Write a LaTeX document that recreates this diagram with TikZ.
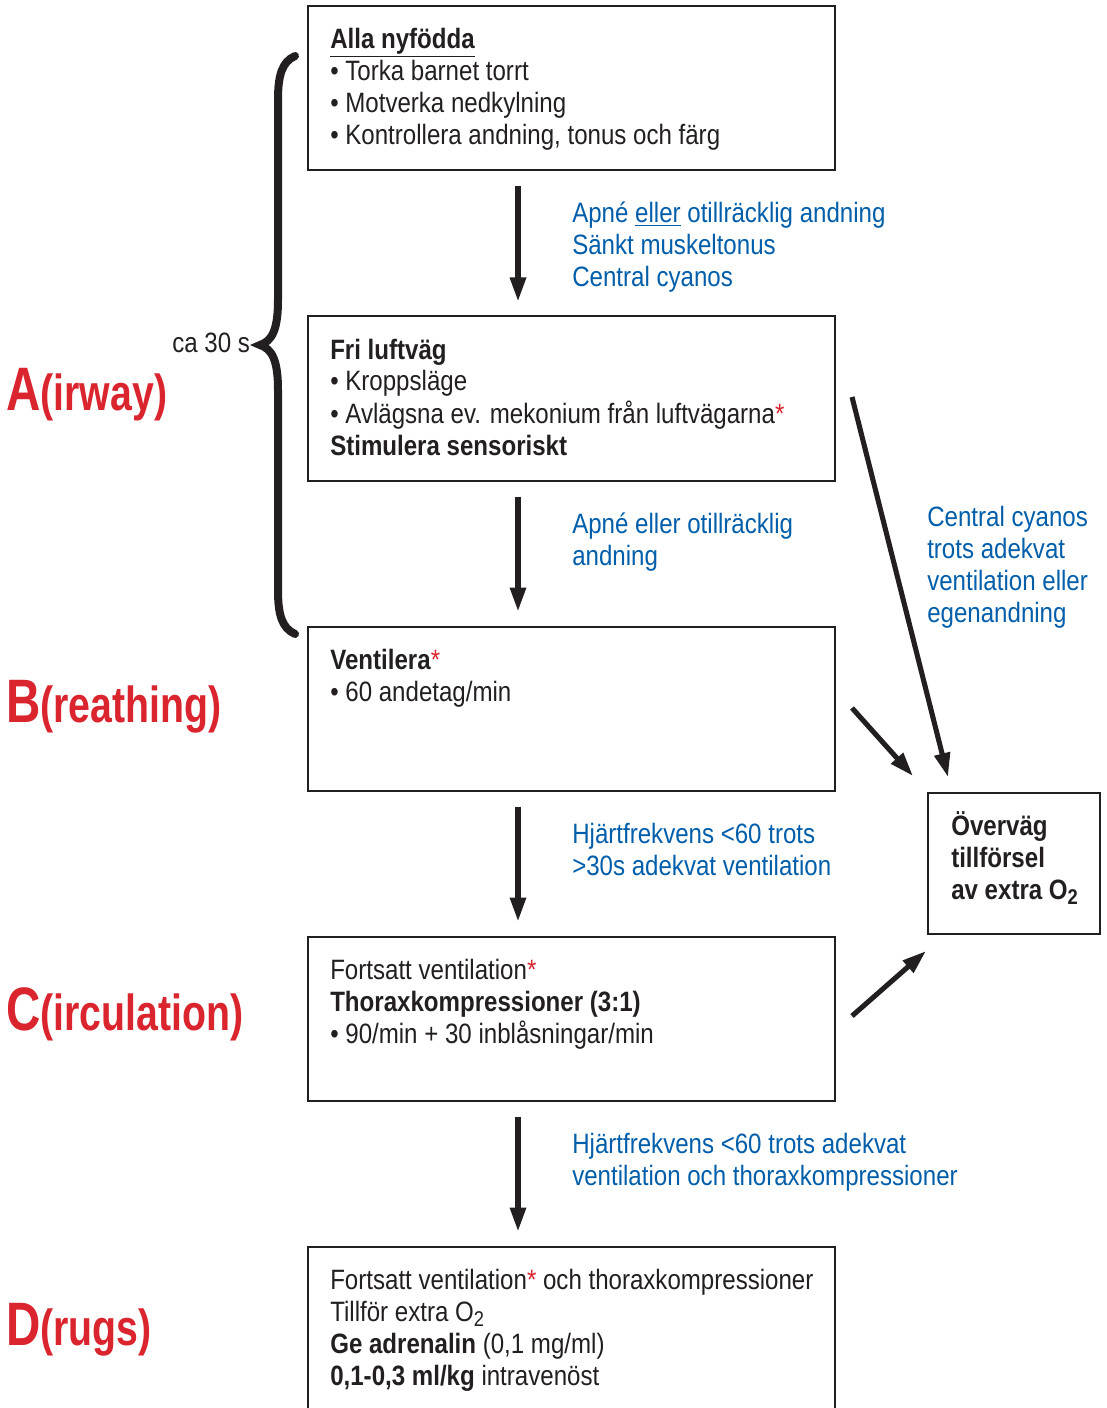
\documentclass[tikz,border=0pt]{standalone}
\usepackage{fontspec}
\setmainfont{Liberation Sans}[FakeStretch=0.86]
\newfontfamily\bigfont{Liberation Sans}[FakeStretch=0.775]
\usetikzlibrary{arrows.meta,calc}
\definecolor{lblue}{RGB}{0,94,170}
\definecolor{lred}{RGB}{218,36,46}
\definecolor{ink}{RGB}{35,31,32}
\newcommand{\rst}{\textcolor{lred}{*}}
\newcommand{\subtwo}{\raisebox{-0.4ex}{\fontsize{16}{16}\selectfont 2}}
\begin{document}
\begin{tikzpicture}[x=0.75pt,y=-0.75pt,
  box/.style={draw=ink,line width=1.5pt,minimum width=395.25pt,minimum height=123pt,inner sep=0pt},
  txt/.style={anchor=base west,align=left,inner sep=0pt,font=\fontsize{21}{24}\selectfont,text=ink},
  blu/.style={txt,text=lblue},
  big/.style={anchor=base west,inner sep=0pt,text=lred,font=\bigfont\bfseries\fontsize{38}{40}\selectfont},
  arr/.style={draw=ink,line width=3.8pt,-{Triangle[length=18pt,width=11.5pt]}}]
\useasboundingbox (0,0) rectangle (1106,1408);
\fill[white] (0,0) rectangle (1106,1408);

% boxes
\node[box] (b1) at (571.5,88.5) {};
\node[box] (b2) at (571.5,398.5) {};
\node[box] (b3) at (571.5,708.5) {};
\node[box] (b4) at (571.5,1018.5) {};
\node[box] (b5) at (571.5,1328.5) {};
\node[draw=ink,line width=1.5pt,minimum width=129pt,minimum height=105.75pt,inner sep=0pt] (o2) at (1014,863.5) {};

% box texts (anchor = baseline of the last line)
\node[txt] (t1) at (330,145) {\textbf{\underline{Alla nyfödda}}\\ • Torka barnet torrt\\ • Motverka nedkylning\\ • Kontrollera andning, tonus och färg};
\node[txt] (t2) at (330,455) {\textbf{Fri luftväg}\\ • Kroppsläge\\ • Avlägsna ev. mekonium från luftvägarna\rst\\ \textbf{Stimulera sensoriskt}};
\node[txt] (t3) at (330,701) {\textbf{Ventilera}\rst\\ • 60 andetag/min};
\node[txt] (t4) at (330,1043) {Fortsatt ventilation\rst\\ \textbf{Thoraxkompressioner (3:1)}\\ • 90/min + 30 inblåsningar/min};
\node[txt] (t5) at (330,1385) {Fortsatt ventilation\rst{} och thoraxkompressioner\\ Tillför extra O\subtwo\\ \textbf{Ge adrenalin} (0,1 mg/ml)\\ \textbf{0,1-0,3 ml/kg} intravenöst};
\node[txt,font=\bfseries\fontsize{21}{24}\selectfont] (to2) at (951,899) {Överväg\\ tillförsel\\ av extra O\subtwo};

% blue labels
\node[blu] (l1) at (572,287) {Apné \underline{eller} otillräcklig andning\\ Sänkt muskeltonus\\ Central cyanos};
\node[blu] (l2) at (572,565) {Apné eller otillräcklig\\ andning};
\node[blu] (l3) at (927,622) {Central cyanos\\ trots adekvat\\ ventilation eller\\ egenandning};
\node[blu] (l4) at (572,875) {Hjärtfrekvens <60 trots\\ >30s adekvat ventilation};
\node[blu] (l5) at (572,1185) {Hjärtfrekvens <60 trots adekvat\\ ventilation och thoraxkompressioner};

% stage labels
\node[big] (sa) at (6,410) {{\fontsize{46}{46}\selectfont A}(irway)};
\node[big] (sb) at (6,722) {{\fontsize{46}{46}\selectfont B}(reathing)};
\node[big] (sc) at (6,1030) {{\fontsize{46}{46}\selectfont C}(irculation)};
\node[big] (sd) at (6,1345) {{\fontsize{46}{46}\selectfont D}(rugs)};
\node[txt] (ca) at (172,353) {ca 30 s};

% brace
\draw[ink,line width=6pt,line cap=round]
  (295,56) .. controls (282,62) and (278,75) .. (278,100) -- (278,300)
  .. controls (278,330) and (272,341) .. (260,345)
  .. controls (272,349) and (278,360) .. (278,390) -- (278,590)
  .. controls (278,615) and (282,628) .. (295,634);

% vertical arrows
\coordinate (ax) at (518,0);
\draw[arr] ($(b1.south -| ax)+(0,15)$) -- ($(b2.north -| ax)+(0,-14)$);
\draw[arr] ($(b2.south -| ax)+(0,15)$) -- ($(b3.north -| ax)+(0,-14)$);
\draw[arr] ($(b3.south -| ax)+(0,15)$) -- ($(b4.north -| ax)+(0,-14)$);
\draw[arr] ($(b4.south -| ax)+(0,15)$) -- ($(b5.north -| ax)+(0,-14)$);

% diagonal arrows
\coordinate (d1s) at (852,397);
\coordinate (d1e) at (948,777);
\coordinate (d2s) at (852,708);
\coordinate (d2e) at (913,776);
\coordinate (d3s) at (852,1016);
\coordinate (d3e) at (926,951);
\draw[arr] (d1s) -- (d1e);
\draw[arr] (d2s) -- (d2e);
\draw[arr] (d3s) -- (d3e);
\end{tikzpicture}
\end{document}
